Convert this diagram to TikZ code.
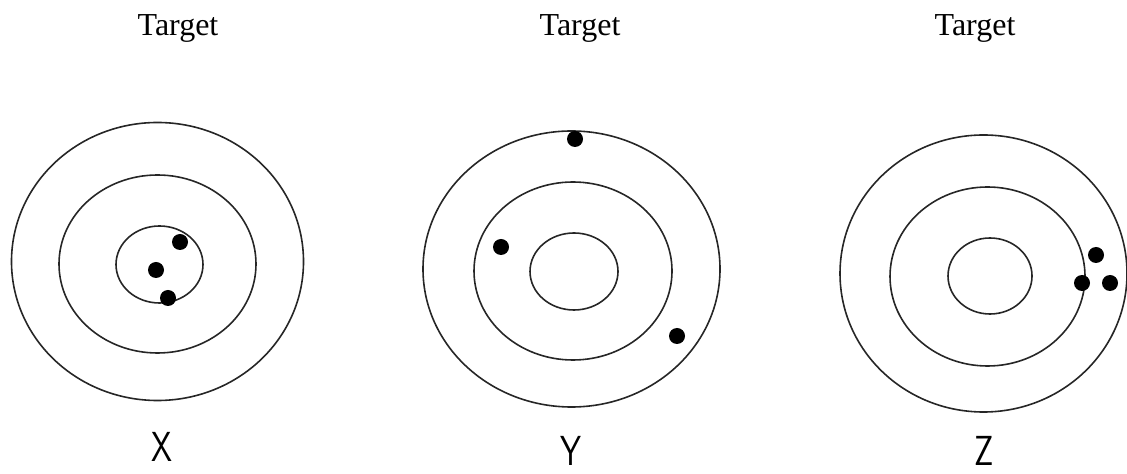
\documentclass[tikz,border=0pt]{standalone}
\usepackage{fontspec}
\setmainfont{Liberation Serif}
\begin{document}
\begin{tikzpicture}[x=0.5pt,y=-0.5pt,
  ring/.style={draw=black!85,line width=0.8pt},
  shot/.style={fill=black},
  title/.style={font=\fontsize{16}{19}\selectfont,anchor=base,inner sep=0pt},
  letter/.style={font=\sffamily\fontsize{21}{25}\selectfont,anchor=base,inner sep=0pt}]
\useasboundingbox (0,0) rectangle (1127,474);
% Target X
\draw[ring] (157.5,261.5) ellipse [x radius=146,y radius=139];
\draw[ring] (157.5,264) ellipse [x radius=98.5,y radius=89];
\draw[ring] (159.5,264.5) ellipse [x radius=43.5,y radius=38.5];
\fill[shot] (180,242) circle [radius=8];
\fill[shot] (156,270) circle [radius=8];
\fill[shot] (168,298) circle [radius=8];
% Target Y
\draw[ring] (571.5,269) ellipse [x radius=148.5,y radius=138];
\draw[ring] (573,271) ellipse [x radius=99,y radius=89];
\draw[ring] (574,271.5) ellipse [x radius=44,y radius=38.5];
\fill[shot] (575,139) circle [radius=8];
\fill[shot] (501,247) circle [radius=8];
\fill[shot] (677,336) circle [radius=8];
% Target Z
\draw[ring] (983.5,273.5) ellipse [x radius=143.5,y radius=138.5];
\draw[ring] (987.5,276.5) ellipse [x radius=97.5,y radius=89.5];
\draw[ring] (990,276) ellipse [x radius=42,y radius=38];
\fill[shot] (1096,255) circle [radius=8];
\fill[shot] (1082,283) circle [radius=8];
\fill[shot] (1110,283) circle [radius=8];
% Titles
\node[title] (t1) at (178,36) {Target};
\node[title] (t2) at (580,36) {Target};
\node[title] (t3) at (975,36) {Target};
% Letters
\node[letter] (lx) at (162,462) {\scalebox{0.8}[1]{X}};
\node[letter] (ly) at (571,466) {\scalebox{0.8}[1]{Y}};
\node[letter] (lz) at (984,466) {\scalebox{0.8}[1]{Z}};
\end{tikzpicture}
\end{document}
